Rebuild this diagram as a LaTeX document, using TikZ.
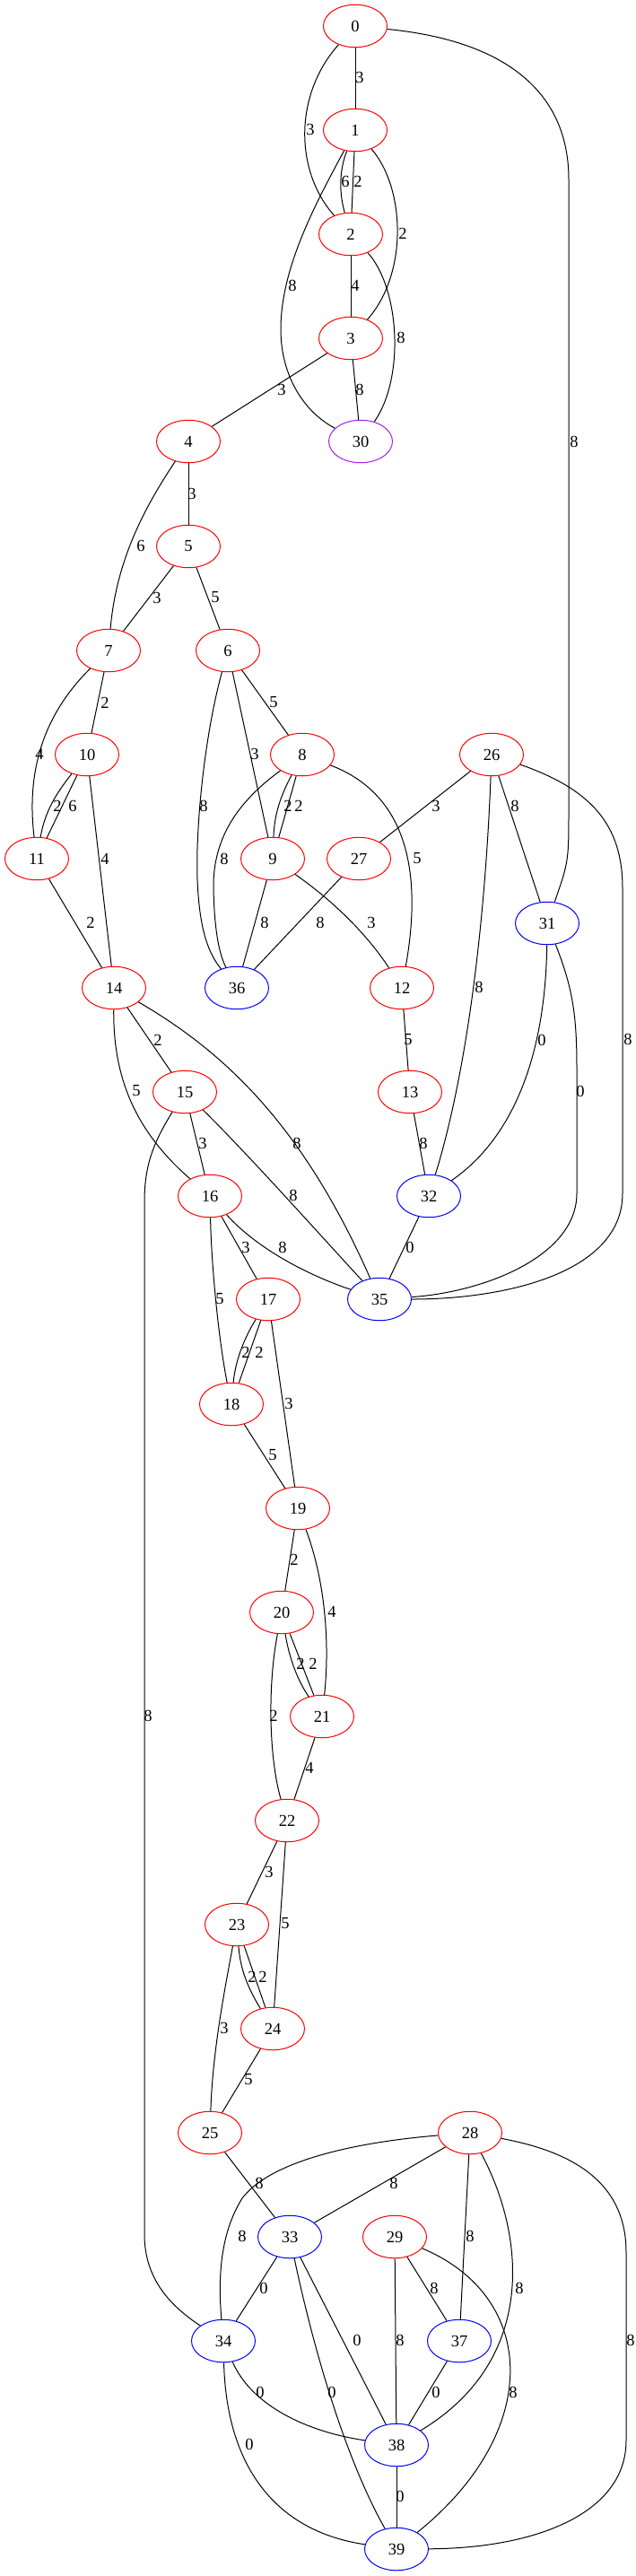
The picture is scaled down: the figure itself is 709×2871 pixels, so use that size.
\documentclass[tikz,border=0pt]{standalone}
\usepackage{fontspec}
\setmainfont{Liberation Serif}
\usetikzlibrary{shapes.geometric}
\definecolor{vpurple}{RGB}{160,32,240}
\tikzset{
 nd/.style={ellipse, draw=red, line width=1pt, minimum width=71pt, minimum height=47.5pt, inner sep=0pt, font=\fontsize{18.5}{20}\selectfont},
 bnd/.style={nd, draw=blue},
 pnd/.style={nd, draw=vpurple},
 lbl/.style={inner sep=0pt, font=\fontsize{18.5}{20}\selectfont},
 ed/.style={line width=1pt, black}
}
\begin{document}
\begin{tikzpicture}[x=1pt,y=-1pt]
\useasboundingbox (0,0) rectangle (709,2871);
% nodes
\node[nd] (n0) at (396,29) {0};
\node[nd] (n1) at (396,145) {1};
\node[nd] (n2) at (391,261) {2};
\node[nd] (n3) at (391,377) {3};
\node[nd] (n4) at (210,492) {4};
\node[pnd] (n30) at (402,492) {30};
\node[nd] (n5) at (210,609) {5};
\node[nd] (n7) at (121,725) {7};
\node[nd] (n6) at (254,725) {6};
\node[nd] (n10) at (97,841) {10};
\node[nd] (n8) at (337,841) {8};
\node[nd] (n26) at (548,841) {26};
\node[nd] (n11) at (41,957) {11};
\node[nd] (n9) at (304,957) {9};
\node[nd] (n27) at (400,957) {27};
\node[bnd] (n31) at (610,1029) {31};
\node[nd] (n14) at (127,1101) {14};
\node[bnd] (n36) at (264,1101) {36};
\node[nd] (n12) at (448,1101) {12};
\node[nd] (n15) at (206,1217) {15};
\node[nd] (n13) at (457,1217) {13};
\node[nd] (n16) at (234,1333) {16};
\node[bnd] (n32) at (478,1333) {32};
\node[nd] (n17) at (299,1448) {17};
\node[bnd] (n35) at (423,1448) {35};
\node[nd] (n18) at (258,1565) {18};
\node[nd] (n19) at (332,1681) {19};
\node[nd] (n20) at (314,1797) {20};
\node[nd] (n21) at (359,1913) {21};
\node[nd] (n22) at (320,2029) {22};
\node[nd] (n23) at (264,2145) {23};
\node[nd] (n24) at (304,2261) {24};
\node[nd] (n25) at (234,2377) {25};
\node[nd] (n28) at (524,2377) {28};
\node[bnd] (n33) at (323,2493) {33};
\node[nd] (n29) at (440,2493) {29};
\node[bnd] (n34) at (249,2609) {34};
\node[bnd] (n37) at (512,2609) {37};
\node[bnd] (n38) at (442,2725) {38};
\node[bnd] (n39) at (442,2841) {39};
% edges
\draw[ed] (n0) -- (n1) node[lbl] at (401,86) {3};
\draw[ed] (n0) .. controls (328,105) and (328,190) .. (n2) node[lbl] at (346,144) {3};
\draw[ed] (n0) .. controls (560,45) and (634,100) .. (634,200) -- (634,900) .. controls (634,960) .. (n31) node[lbl] at (640,492) {8};
\draw[ed] (n1) .. controls (378,190) and (378,215) .. (n2) node[lbl] at (385,202) {6};
\draw[ed] (n1) -- (n2) node[lbl] at (399,202) {2};
\draw[ed] (n1) .. controls (452,210) and (455,305) .. (n3) node[lbl] at (449,260) {2};
\draw[ed] (n1) .. controls (350,230) and (313,300) .. (313,367) .. controls (313,420) and (340,460) .. (n30) node[lbl] at (326,318) {8};
\draw[ed] (n2) -- (n3) node[lbl] at (396,318) {4};
\draw[ed] (n2) .. controls (445,320) and (452,420) .. (n30) node[lbl] at (447,376) {8};
\draw[ed] (n3) -- (n4) node[lbl] at (314,434) {3};
\draw[ed] (n3) -- (n30) node[lbl] at (401,434) {8};
\draw[ed] (n4) -- (n5) node[lbl] at (214,550) {3};
\draw[ed] (n4) .. controls (165,560) and (130,620) .. (n7) node[lbl] at (157,608) {6};
\draw[ed] (n5) -- (n7) node[lbl] at (175,666) {3};
\draw[ed] (n5) -- (n6) node[lbl] at (240,666) {5};
\draw[ed] (n7) -- (n10) node[lbl] at (117,783) {2};
\draw[ed] (n7) .. controls (55,790) and (28,850) .. (n11) node[lbl] at (44,840) {4};
\draw[ed] (n6) -- (n8) node[lbl] at (305,783) {5};
\draw[ed] (n6) -- (n9) node[lbl] at (284,840) {3};
\draw[ed] (n6) .. controls (228,820) and (218,920) .. (220,980) .. controls (222,1030) and (230,1060) .. (n36) node[lbl] at (227,898) {8};
\draw[ed] (n10) .. controls (62,885) and (50,905) .. (n11) node[lbl] at (64,898) {2};
\draw[ed] (n10) -- (n11) node[lbl] at (81,898) {6};
\draw[ed] (n10) -- (n14) node[lbl] at (117,957) {4};
\draw[ed] (n8) .. controls (314,885) and (306,905) .. (n9) node[lbl] at (321,898) {2};
\draw[ed] (n8) -- (n9) node[lbl] at (333,898) {2};
\draw[ed] (n8) .. controls (270,890) and (237,930) .. (238,990) .. controls (239,1040) and (245,1065) .. (n36) node[lbl] at (250,957) {8};
\draw[ed] (n8) .. controls (440,880) and (475,950) .. (n12) node[lbl] at (465,957) {5};
\draw[ed] (n26) -- (n27) node[lbl] at (486,898) {3};
\draw[ed] (n26) -- (n31) node[lbl] at (574,898) {8};
\draw[ed] (n26) .. controls (542,1000) and (525,1180) .. (n32) node[lbl] at (534,1100) {8};
\draw[ed] (n26) .. controls (660,880) and (694,920) .. (694,990) -- (694,1330) .. controls (694,1420) and (560,1448) .. (n35) node[lbl] at (700,1158) {8};
\draw[ed] (n11) -- (n14) node[lbl] at (101,1028) {2};
\draw[ed] (n9) -- (n36) node[lbl] at (295,1028) {8};
\draw[ed] (n27) -- (n36) node[lbl] at (357,1028) {8};
\draw[ed] (n9) .. controls (380,1010) and (415,1050) .. (n12) node[lbl] at (414,1028) {3};
\draw[ed] (n31) .. controls (608,1180) and (570,1270) .. (n32) node[lbl] at (604,1159) {0};
\draw[ed] (n31) .. controls (638,1100) and (643,1130) .. (643,1190) -- (643,1330) .. controls (643,1400) and (540,1440) .. (n35) node[lbl] at (647,1216) {0};
\draw[ed] (n14) -- (n15) node[lbl] at (176,1159) {2};
\draw[ed] (n14) .. controls (126,1200) and (150,1260) .. (n16) node[lbl] at (152,1216) {5};
\draw[ed] (n14) .. controls (255,1175) and (340,1260) .. (n35) node[lbl] at (331,1274) {8};
\draw[ed] (n12) -- (n13) node[lbl] at (455,1159) {5};
\draw[ed] (n13) -- (n32) node[lbl] at (472,1274) {8};
\draw[ed] (n15) -- (n16) node[lbl] at (226,1274) {3};
\draw[ed] (n15) .. controls (280,1290) and (360,1380) .. (n35) node[lbl] at (327,1332) {8};
\draw[ed] (n15) .. controls (170,1275) and (161,1300) .. (161,1340) -- (161,2490) .. controls (161,2540) and (190,2570) .. (n34) node[lbl] at (165,1912) {8};
\draw[ed] (n16) -- (n17) node[lbl] at (274,1390) {3};
\draw[ed] (n16) .. controls (285,1390) and (340,1420) .. (n35) node[lbl] at (315,1390) {8};
\draw[ed] (n16) .. controls (236,1420) and (245,1500) .. (n18) node[lbl] at (245,1448) {5};
\draw[ed] (n32) -- (n35) node[lbl] at (457,1390) {0};
\draw[ed] (n17) .. controls (270,1495) and (262,1520) .. (n18) node[lbl] at (274,1507) {2};
\draw[ed] (n17) -- (n18) node[lbl] at (289,1507) {2};
\draw[ed] (n17) -- (n19) node[lbl] at (322,1564) {3};
\draw[ed] (n18) -- (n19) node[lbl] at (304,1622) {5};
\draw[ed] (n19) -- (n20) node[lbl] at (328,1738) {2};
\draw[ed] (n19) .. controls (362,1760) and (368,1830) .. (n21) node[lbl] at (370,1796) {4};
\draw[ed] (n20) .. controls (322,1845) and (330,1870) .. (n21) node[lbl] at (335,1854) {2};
\draw[ed] (n20) -- (n21) node[lbl] at (349,1854) {2};
\draw[ed] (n20) .. controls (298,1880) and (300,1960) .. (n22) node[lbl] at (305,1912) {2};
\draw[ed] (n21) -- (n22) node[lbl] at (345,1970) {4};
\draw[ed] (n22) -- (n23) node[lbl] at (300,2086) {3};
\draw[ed] (n22) -- (n24) node[lbl] at (318,2144) {5};
\draw[ed] (n23) .. controls (268,2195) and (276,2215) .. (n24) node[lbl] at (281,2203) {2};
\draw[ed] (n23) -- (n24) node[lbl] at (293,2203) {2};
\draw[ed] (n23) .. controls (248,2230) and (237,2290) .. (n25) node[lbl] at (250,2260) {3};
\draw[ed] (n24) -- (n25) node[lbl] at (277,2318) {5};
\draw[ed] (n25) -- (n33) node[lbl] at (289,2433) {8};
\draw[ed] (n28) -- (n33) node[lbl] at (439,2433) {8};
\draw[ed] (n28) .. controls (390,2388) and (300,2410) .. (270,2450) .. controls (245,2490) and (243,2540) .. (n34) node[lbl] at (270,2492) {8};
\draw[ed] (n28) -- (n37) node[lbl] at (524,2492) {8};
\draw[ed] (n28) .. controls (585,2490) and (600,2630) .. (n38) node[lbl] at (579,2550) {8};
\draw[ed] (n28) .. controls (650,2400) and (698,2440) .. (698,2510) -- (698,2720) .. controls (698,2800) and (600,2840) .. (n39) node[lbl] at (703,2608) {8};
\draw[ed] (n33) -- (n34) node[lbl] at (294,2550) {0};
\draw[ed] (n33) -- (n38) node[lbl] at (398,2608) {0};
\draw[ed] (n33) .. controls (350,2620) and (385,2740) .. (n39) node[lbl] at (370,2666) {0};
\draw[ed] (n29) -- (n37) node[lbl] at (484,2550) {8};
\draw[ed] (n29) -- (n38) node[lbl] at (446,2608) {8};
\draw[ed] (n29) .. controls (600,2560) and (605,2710) .. (n39) node[lbl] at (572,2666) {8};
\draw[ed] (n34) .. controls (280,2680) and (340,2710) .. (n38) node[lbl] at (290,2666) {0};
\draw[ed] (n34) .. controls (252,2740) and (300,2820) .. (n39) node[lbl] at (278,2724) {0};
\draw[ed] (n37) -- (n38) node[lbl] at (486,2666) {0};
\draw[ed] (n38) -- (n39) node[lbl] at (446,2782) {0};
\end{tikzpicture}
\end{document}
